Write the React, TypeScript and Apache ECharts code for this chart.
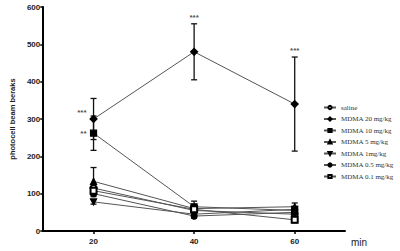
import React, { useEffect, useRef } from "react";
import * as echarts from "echarts";

const times = [20, 40, 60];
const yTicks = [0, 100, 200, 300, 400, 500, 600];

const salineMean = [115, 55, 45];
const salineErr = [10, 8, 8];
const mdma20Mean = [300, 480, 340];
const mdma20Err = [55, 75, 126];
const mdma10Mean = [262, 65, 55];
const mdma10Err = [46, 15, 10];
const mdma5Mean = [133, 60, 65];
const mdma5Err = [37, 10, 10];
const mdma1Mean = [78, 45, 58];
const mdma1Err = [6, 6, 8];
const mdma05Mean = [100, 40, 50];
const mdma05Err = [8, 6, 8];
const mdma01Mean = [108, 58, 30];
const mdma01Err = [8, 8, 8];

const stars = [
  { x: 20, y: 318, text: "***", pos: "left" },
  { x: 20, y: 260, text: "**", pos: "left" },
  { x: 40, y: 557, text: "***", pos: "top" },
  { x: 60, y: 467, text: "***", pos: "top" },
];

const groups = [
  { name: "saline", mean: salineMean, err: salineErr, symbol: "emptyCircle", size: 6 },
  { name: "MDMA 20 mg/kg", mean: mdma20Mean, err: mdma20Err, symbol: "diamond", size: 7 },
  { name: "MDMA 10 mg/kg", mean: mdma10Mean, err: mdma10Err, symbol: "rect", size: 6 },
  { name: "MDMA 5 mg/kg", mean: mdma5Mean, err: mdma5Err, symbol: "triangle", size: 6 },
  { name: "MDMA 1mg/kg", mean: mdma1Mean, err: mdma1Err, symbol: "path://M0,0 L10,0 L5,9 Z", size: 6 },
  { name: "MDMA 0.5 mg/kg", mean: mdma05Mean, err: mdma05Err, symbol: "circle", size: 6 },
  { name: "MDMA 0.1 mg/kg", mean: mdma01Mean, err: mdma01Err, symbol: "emptyRect", size: 6 },
];

export default function App() {
  const ref = useRef<HTMLDivElement>(null);
  useEffect(() => {
    if (!ref.current) return;
    const chart = echarts.init(ref.current, null, { renderer: "svg" });
    const series: any[] = [];
    groups.forEach((g) => {
      series.push({
        type: "custom",
        name: g.name + " err",
        z: 1,
        silent: true,
        data: times.map((t, i) => [t, g.mean[i] - g.err[i], g.mean[i] + g.err[i]]),
        renderItem: (params: any, api: any) => {
          const lo = api.coord([api.value(0), api.value(1)]);
          const hi = api.coord([api.value(0), api.value(2)]);
          const w = 3;
          const st = { stroke: "#111", lineWidth: 1.3 };
          return {
            type: "group",
            children: [
              { type: "line", shape: { x1: lo[0], y1: lo[1], x2: hi[0], y2: hi[1] }, style: st },
              { type: "line", shape: { x1: lo[0] - w, y1: lo[1], x2: lo[0] + w, y2: lo[1] }, style: st },
              { type: "line", shape: { x1: hi[0] - w, y1: hi[1], x2: hi[0] + w, y2: hi[1] }, style: st },
            ],
          };
        },
      });
      series.push({
        type: "line",
        name: g.name,
        z: 3,
        data: times.map((t, i) => [t, g.mean[i]]),
        symbol: g.symbol,
        symbolSize: g.size,
        showAllSymbol: true,
        lineStyle: { color: "#555", width: 1 },
        itemStyle: { color: "#000", borderColor: "#000", borderWidth: 1.2 },
      });
    });
    series.push({
      type: "scatter",
      name: "stars",
      symbolSize: 0,
      silent: true,
      data: stars.map((s) => ({
        value: [s.x, s.y],
        label: {
          show: true,
          formatter: s.text,
          position: s.pos,
          distance: s.pos === "left" ? 7 : 2,
          color: "#222",
          fontSize: 8,
          fontWeight: "bold",
          fontFamily: "Liberation Sans, Arial, sans-serif",
        },
      })),
    });

    chart.setOption({
      animation: false,
      backgroundColor: "#fff",
      grid: { left: 32, right: 55, top: 7, bottom: 20, containLabel: false },
      legend: {
        data: groups.map((g) => g.name),
        orient: "vertical",
        left: 318,
        top: 99,
        itemGap: 4.5,
        itemWidth: 12,
        itemHeight: 4,
        textStyle: { fontFamily: "Liberation Serif, Times New Roman, serif", fontSize: 7, color: "#333", padding: [0, 0, 0, 0] },
        selectedMode: false,
      },
      xAxis: {
        type: "value",
        min: 10,
        max: 70,
        name: "min",
        nameLocation: "end",
        nameGap: 6,
        nameTextStyle: { fontFamily: "Liberation Sans, Arial, sans-serif", fontSize: 10, color: "#222", verticalAlign: "top", padding: [6, 0, 0, 0] },
        splitLine: { show: false },
        axisLine: { lineStyle: { color: "#000", width: 2 } },
        axisTick: { customValues: times, length: 3, lineStyle: { color: "#000", width: 1.5 } },
        axisLabel: {
          customValues: times,
          fontSize: 8,
          fontWeight: "bold",
          color: "#222",
          margin: 6,
          fontFamily: "Liberation Sans, Arial, sans-serif",
        },
      },
      yAxis: {
        type: "value",
        min: 0,
        max: 600,
        interval: 100,
        name: "photocell beam beraks",
        nameLocation: "middle",
        nameGap: 23,
        nameRotate: 90,
        nameTextStyle: { fontFamily: "Liberation Sans, Arial, sans-serif", fontSize: 7.5, fontWeight: "bold", color: "#222" },
        splitLine: { show: false },
        axisLine: { show: true, lineStyle: { color: "#000", width: 2 } },
        axisTick: { show: true, length: 3, lineStyle: { color: "#000", width: 1.5 } },
        axisLabel: {
          fontSize: 8,
          fontWeight: "bold",
          color: "#222",
          margin: 3,
          fontFamily: "Liberation Sans, Arial, sans-serif",
          formatter: (v: number) => (yTicks.includes(v) ? String(v) : ""),
        },
      },
      series,
    });
    return () => chart.dispose();
  }, []);
  return <div ref={ref} style={{ width: 400, height: 251, position: "absolute", left: 0, top: 0 }} />;
}
